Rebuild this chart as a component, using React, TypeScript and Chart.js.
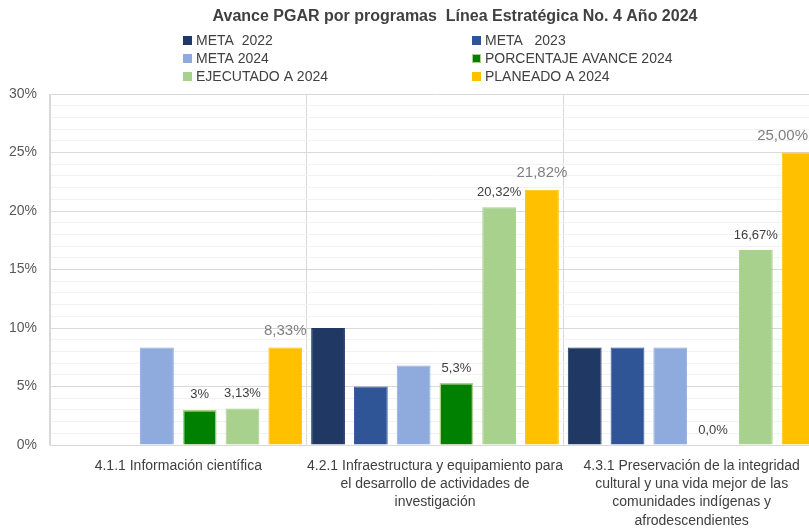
import React, { useEffect, useRef } from "react";
import { Chart, registerables } from "chart.js";

Chart.register(...registerables);

const FONT = "'Liberation Sans', Arial, sans-serif";

const title = "Avance PGAR por programas  Línea Estratégica No. 4 Año 2024";

const categories: string[][] = [
  ["4.1.1 Información científica"],
  ["4.2.1 Infraestructura y equipamiento para", "el desarrollo de actividades de", "investigación"],
  ["4.3.1 Preservación de la integridad", "cultural y una vida mejor de las", "comunidades indígenas y", "afrodescendientes"],
];

const seriesNames = [
  "META  2022",
  "META   2023",
  "META 2024",
  "PORCENTAJE AVANCE 2024",
  "EJECUTADO A 2024",
  "PLANEADO A 2024",
];

const meta2022 = [null, 10, 8.33];
const meta2023 = [null, 5, 8.33];
const meta2024 = [8.33, 6.8, 8.33];
const avance2024 = [3, 5.3, 0];
const ejecutado2024 = [3.13, 20.32, 16.67];
const planeado2024 = [8.33, 21.82, 25];

const avanceLabels = ["3%", "5,3%", "0,0%"];
const ejecutadoLabels = ["3,13%", "20,32%", "16,67%"];
const planeadoLabels = ["8,33%", "21,82%", "25,00%"];

const yMax = 30;
const yMajorStep = 5;

const colors = ["#203864", "#2F5597", "#8FAADC", "#008000", "#A9D18E", "#FFC000"];
const borderColors = ["#203864", "#2F5597", "#8FAADC", "#A9D18E", "#A9D18E", "#FFC000"];

const VISIBLE_WIDTH = 809;

const titleLegendPlugin = {
  id: "titleLegend",
  afterDraw(chart: any) {
    const ctx = chart.ctx;
    ctx.save();
    ctx.fillStyle = "#404040";
    ctx.font = `bold 16px ${FONT}`;
    ctx.textAlign = "center";
    ctx.textBaseline = "middle";
    ctx.fillText(title, 455, 17);
    ctx.font = `14px ${FONT}`;
    ctx.textAlign = "left";
    const colX = [183, 472];
    const rowY = [40, 58, 76];
    seriesNames.forEach((name, i) => {
      const x = colX[i % 2];
      const y = rowY[Math.floor(i / 2)];
      ctx.fillStyle = colors[i];
      ctx.fillRect(x, y - 4, 9, 9);
      if (i === 3) {
        ctx.strokeStyle = "#A9D18E";
        ctx.lineWidth = 1;
        ctx.strokeRect(x + 0.5, y - 3.5, 8, 8);
      }
      ctx.fillStyle = "#404040";
      ctx.fillText(name, x + 13, y + 1);
    });
    ctx.restore();
  },
};

const dataLabelPlugin = {
  id: "dataLabels",
  afterDatasetsDraw(chart: any) {
    const ctx = chart.ctx;
    ctx.save();
    ctx.textAlign = "center";
    ctx.textBaseline = "middle";
    chart.data.datasets.forEach((ds: any, di: number) => {
      if (!ds.labelTexts) return;
      const meta = chart.getDatasetMeta(di);
      meta.data.forEach((bar: any, i: number) => {
        const txt = ds.labelTexts[i];
        if (txt == null || ds.data[i] == null) return;
        ctx.font = ds.labelBig ? `15px ${FONT}` : `13px ${FONT}`;
        ctx.fillStyle = ds.labelBig ? "#7F7F7F" : "#404040";
        const w = ctx.measureText(txt).width;
        let x = bar.x;
        if (x + w / 2 > VISIBLE_WIDTH - 1) x = VISIBLE_WIDTH - 1 - w / 2;
        ctx.fillText(txt, x, bar.y - (ds.labelBig ? 17 : 15));
      });
    });
    ctx.restore();
  },
};

export default function App() {
  const ref = useRef<HTMLCanvasElement | null>(null);

  useEffect(() => {
    if (!ref.current) return;
    const values = [meta2022, meta2023, meta2024, avance2024, ejecutado2024, planeado2024];
    const labelSets: any[] = [null, null, null, avanceLabels, ejecutadoLabels, planeadoLabels];
    const chart = new Chart(ref.current, {
      type: "bar",
      data: {
        labels: categories,
        datasets: values.map((v, i) => ({
          label: seriesNames[i],
          data: v,
          backgroundColor: colors[i],
          borderColor: borderColors[i],
          borderWidth: i === 3 ? 1.5 : 1,
          barPercentage: 0.79,
          categoryPercentage: 1,
          labelTexts: labelSets[i],
          labelBig: i === 5,
        })) as any,
      },
      options: {
        animation: false,
        responsive: false,
        layout: { padding: { top: 94, left: 0, right: 2, bottom: 0 } },
        plugins: {
          legend: { display: false },
          title: { display: false },
          tooltip: { enabled: false },
        },
        scales: {
          x: {
            grid: { color: "#D9D9D9", drawTicks: false, offset: true },
            border: { color: "#D9D9D9" },
            ticks: {
              color: "#404040",
              font: { family: FONT, size: 14, lineHeight: 1.3 },
              padding: 12,
              maxRotation: 0,
              autoSkip: false,
            },
            afterFit(scale: any) {
              scale.height = 86;
            },
          },
          y: {
            min: 0,
            max: yMax,
            grid: {
              drawTicks: false,
              color: (c: any) => (c.tick && c.tick.value % yMajorStep === 0 ? "#D9D9D9" : "#F2F2F2"),
            },
            border: { color: "#D9D9D9" },
            ticks: {
              stepSize: 1,
              autoSkip: false,
              color: "#595959",
              font: { family: FONT, size: 14 },
              padding: 13,
              callback: (v: any) => (Number(v) % yMajorStep === 0 ? `${v}%` : ""),
            },
            afterFit(scale: any) {
              scale.width = 50;
            },
          },
        },
      },
      plugins: [titleLegendPlugin, dataLabelPlugin],
    });
    return () => chart.destroy();
  }, []);

  return (
    <div
      style={{
        position: "fixed",
        left: 0,
        top: 0,
        width: 809,
        height: 531,
        overflow: "hidden",
        background: "#fff",
      }}
    >
      <canvas ref={ref} width={822} height={531} style={{ display: "block" }} />
    </div>
  );
}
